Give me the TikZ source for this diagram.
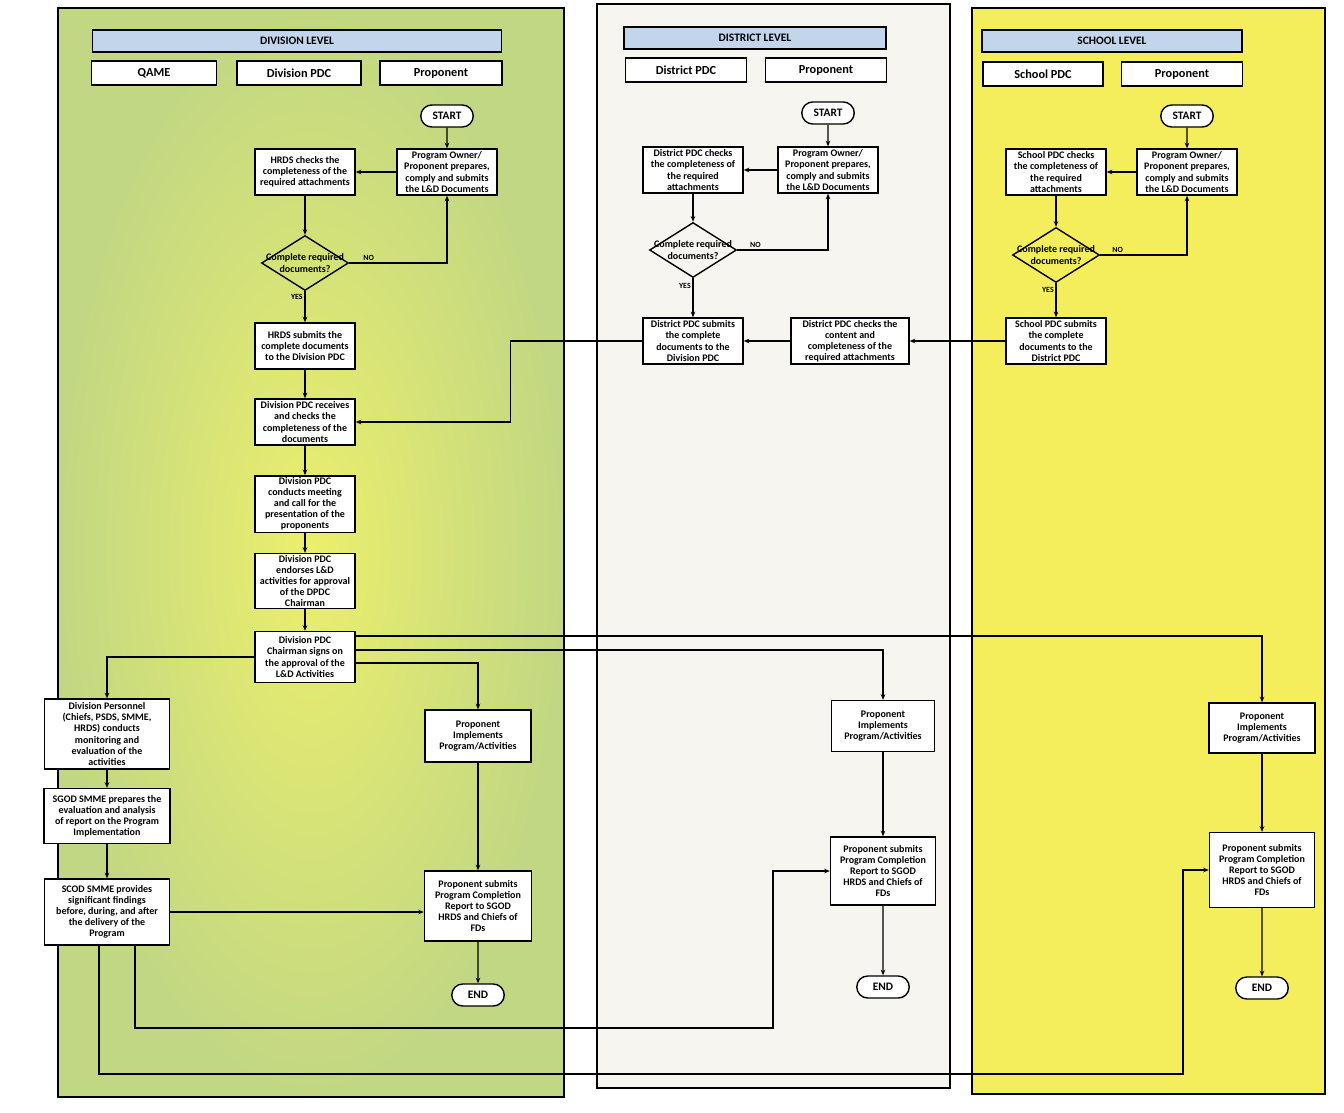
\documentclass[tikz,border=0pt]{standalone}
\usepackage{fontspec}
\setmainfont{Carlito}
\usetikzlibrary{arrows.meta, positioning, calc, shapes.geometric, shapes.misc}
\definecolor{divinner}{HTML}{EBEF6C}
\definecolor{divouter}{HTML}{C2D783}
\definecolor{distfill}{HTML}{F6F5EF}
\definecolor{schoolfill}{HTML}{F4EE5C}
\definecolor{headblue}{HTML}{C2D5EA}

\begin{document}
\begin{tikzpicture}[
    x=0.02cm, y=-0.02cm,
    >={Stealth[length=3.2pt, width=2.6pt]},
    levelhead/.style={draw, thick, fill=headblue, minimum width=#1, minimum height=0.44cm, font=\fontsize{6.5}{7}\selectfont\bfseries},
    rolebox/.style={draw, thick, fill=white, minimum width=#1, minimum height=0.48cm, font=\fontsize{7}{8}\selectfont\bfseries},
    procbox/.style={draw, thick, fill=white, align=center, inner sep=1pt, minimum width=2cm, minimum height=0.92cm, font=\fontsize{5.7}{6.3}\selectfont\bfseries},
    terminal/.style={draw, thick, fill=white, rounded rectangle, minimum width=1.12cm, minimum height=0.44cm, inner sep=1pt, font=\fontsize{6.5}{7}\selectfont\bfseries},
    decision/.style={draw, thick, diamond, minimum width=1.74cm, minimum height=1.1cm, inner sep=0pt},
    decisiontext/.style={align=center, font=\fontsize{5.7}{6.3}\selectfont\bfseries, inner sep=0pt},
    flowlabel/.style={font=\fontsize{4.5}{5}\selectfont\bfseries, inner sep=1pt},
    flow/.style={->, semithick},
]
    \useasboundingbox[fill=white] (0,0) rectangle (1344,1112);

    % Division level
    \shade[inner color=divinner, outer color=divouter] (58,8) rectangle (564,1097);
    \draw[thick] (58,8) rectangle (564,1097);
    \node[levelhead=8.18cm] (divhead) at (297,41) {DIVISION LEVEL};
    \node[rolebox=2.5cm] (qame) at (154,73) {QAME};
    \node[rolebox=2.48cm] (divpdc) at (299,73) {Division PDC};
    \node[rolebox=2.44cm] (divprop) at (441,73) {Proponent};

    \node[terminal] (start1) at (447,116) {START};
    \node[procbox] (own1) at (447,172) {Program Owner/\\Proponent prepares,\\comply and submits\\the L\&D Documents};
    \node[procbox] (chk1) at (305,172) {HRDS checks the\\completeness of the\\required attachments};
    \node[decision, label={[decisiontext]center:{Complete required\\documents?}}] (dec1) at (305,263) {};
    \node[procbox] (sub1) at (305,346) {HRDS submits the\\complete documents\\to the Division PDC};
    \node[procbox] (recv) at (305,422) {Division PDC receives\\and checks the\\completeness of the\\documents};
    \node[procbox, minimum height=1.08cm] (meet) at (305,504) {Division PDC\\conducts meeting\\and call for the\\presentation of the\\proponents};
    \node[procbox, minimum height=1.06cm] (endo) at (305,581) {Division PDC\\endorses L\&D\\activities for approval\\of the DPDC\\Chairman};
    \node[procbox, minimum height=1.02cm] (chair) at (305,657) {Division PDC\\Chairman signs on\\the approval of the\\L\&D Activities};

    \node[procbox, minimum width=2.5cm, minimum height=1.4cm] (pers) at (107,734) {Division Personnel\\(Chiefs, PSDS, SMME,\\HRDS) conducts\\monitoring and\\evaluation of the\\activities};
    \node[procbox, minimum width=2.52cm, minimum height=1.1cm] (prep) at (107,816) {SGOD SMME prepares the\\evaluation and analysis\\of report on the Program\\Implementation};
    \node[procbox, minimum width=2.5cm, minimum height=1.32cm] (scod) at (107,912) {SCOD SMME provides\\significant findings\\before, during, and after\\the delivery of the\\Program};

    \node[procbox, minimum width=2.12cm, minimum height=1.04cm] (impl1) at (478,736) {Proponent\\Implements\\Program/Activities};
    \node[procbox, minimum width=2.14cm, minimum height=1.4cm] (subr1) at (478,906) {Proponent submits\\Program Completion\\Report to SGOD\\HRDS and Chiefs of\\FDs};
    \node[terminal] (end1) at (478,995) {END};

    % District level
    \fill[distfill] (597,4) rectangle (950,1088);
    \draw[thick] (597,4) rectangle (950,1088);
    \node[levelhead=5.24cm] (disthead) at (755,38) {DISTRICT LEVEL};
    \node[rolebox=2.42cm] (distpdc) at (686,70) {District PDC};
    \node[rolebox=2.42cm] (distprop) at (826,70) {Proponent};

    \node[terminal] (start2) at (828,113) {START};
    \node[procbox] (own2) at (828,170) {Program Owner/\\Proponent prepares,\\comply and submits\\the L\&D Documents};
    \node[procbox] (chk2) at (693,170) {District PDC checks\\the completeness of\\the required\\attachments};
    \node[decision, label={[decisiontext]center:{Complete required\\documents?}}] (dec2) at (693,250) {};
    \node[procbox] (dsub) at (693,341) {District PDC submits\\the complete\\documents to the\\Division PDC};
    \node[procbox, minimum width=2.36cm] (dchk) at (850,341) {District PDC checks the\\content and\\completeness of the\\required attachments};

    \node[procbox, minimum width=2.06cm, minimum height=1.02cm] (impl2) at (883,726) {Proponent\\Implements\\Program/Activities};
    \node[procbox, minimum width=2.1cm, minimum height=1.36cm] (subr2) at (883,871) {Proponent submits\\Program Completion\\Report to SGOD\\HRDS and Chiefs of\\FDs};
    \node[terminal] (end2) at (883,987) {END};

    % School level
    \fill[schoolfill] (972,8) rectangle (1325,1094);
    \draw[thick] (972,8) rectangle (1325,1094);
    \node[levelhead=5.2cm] (schhead) at (1112,41) {SCHOOL LEVEL};
    \node[rolebox=2.4cm] (schpdc) at (1043,74) {School PDC};
    \node[rolebox=2.42cm] (schprop) at (1182,74) {Proponent};

    \node[terminal] (start3) at (1187,116) {START};
    \node[procbox] (own3) at (1187,172) {Program Owner/\\Proponent prepares,\\comply and submits\\the L\&D Documents};
    \node[procbox] (chk3) at (1056,172) {School PDC checks\\the completeness of\\the required\\attachments};
    \node[decision, label={[decisiontext]center:{Complete required\\documents?}}] (dec3) at (1056,255) {};
    \node[procbox] (ssub) at (1056,341) {School PDC submits\\the complete\\documents to the\\District PDC};

    \node[procbox, minimum width=2.12cm, minimum height=1cm] (impl3) at (1262,728) {Proponent\\Implements\\Program/Activities};
    \node[procbox, minimum width=2.1cm, minimum height=1.5cm] (subr3) at (1262,870) {Proponent submits\\Program Completion\\Report to SGOD\\HRDS and Chiefs of\\FDs};
    \node[terminal] (end3) at (1262,988) {END};

    % Division flow
    \draw[flow] (start1) -- (own1);
    \draw[flow] (own1) -- (chk1);
    \draw[flow] (chk1) -- (dec1);
    \draw[flow] (dec1.east) -| node[flowlabel, pos=0.1, above] {NO} (own1.south);
    \draw[flow] (dec1) -- node[flowlabel, pos=0.2, left] {YES} (sub1);
    \draw[flow] (sub1) -- (recv);
    \draw[flow] (recv) -- (meet);
    \draw[flow] (meet) -- (endo);
    \draw[flow] (endo) -- (chair);

    % Chairman approval to the three levels
    \draw[flow] (chair.west) -| (pers.north);
    \draw[flow] ([yshift=0.42cm]chair.east) -| (impl3.north);
    \draw[flow] ([yshift=0.14cm]chair.east) -| (impl2.north);
    \draw[flow] ([yshift=-0.12cm]chair.east) -| (impl1.north);

    % Monitoring and evaluation
    \draw[flow] (pers) -- (prep);
    \draw[flow] (prep) -- (scod);
    \draw[flow] (scod.east) -- (scod.east -| subr1.west);
    \draw[flow] ([xshift=0.56cm]scod.south) |- (773,1028) |- (subr2.west);
    \draw[flow] ([xshift=-0.16cm]scod.south) |- (1183,1074) |- (subr3.west);
    \draw[flow] (impl1) -- (subr1);
    \draw[flow] (subr1) -- (end1);

    % District flow
    \draw[flow] (start2) -- (own2);
    \draw[flow] (own2) -- (chk2);
    \draw[flow] (chk2) -- (dec2);
    \draw[flow] (dec2.east) -| node[flowlabel, pos=0.1, above] {NO} (own2.south);
    \draw[flow] (dec2) -- node[flowlabel, pos=0.2, left] {YES} (dsub);
    \draw[flow] (dchk.west) -- (dsub.east);
    \draw[flow] (dsub.west) -| ([xshift=3.1cm]recv.east) -- (recv.east);
    \draw[flow] (impl2) -- (subr2);
    \draw[flow] (subr2) -- (end2);

    % School flow
    \draw[flow] (start3) -- (own3);
    \draw[flow] (own3) -- (chk3);
    \draw[flow] (chk3) -- (dec3);
    \draw[flow] (dec3.east) -| node[flowlabel, pos=0.1, above] {NO} (own3.south);
    \draw[flow] (dec3) -- node[flowlabel, pos=0.2, left] {YES} (ssub);
    \draw[flow] (ssub.west) -- (dchk.east);
    \draw[flow] (impl3) -- (subr3);
    \draw[flow] (subr3) -- (end3);
\end{tikzpicture}
\end{document}
